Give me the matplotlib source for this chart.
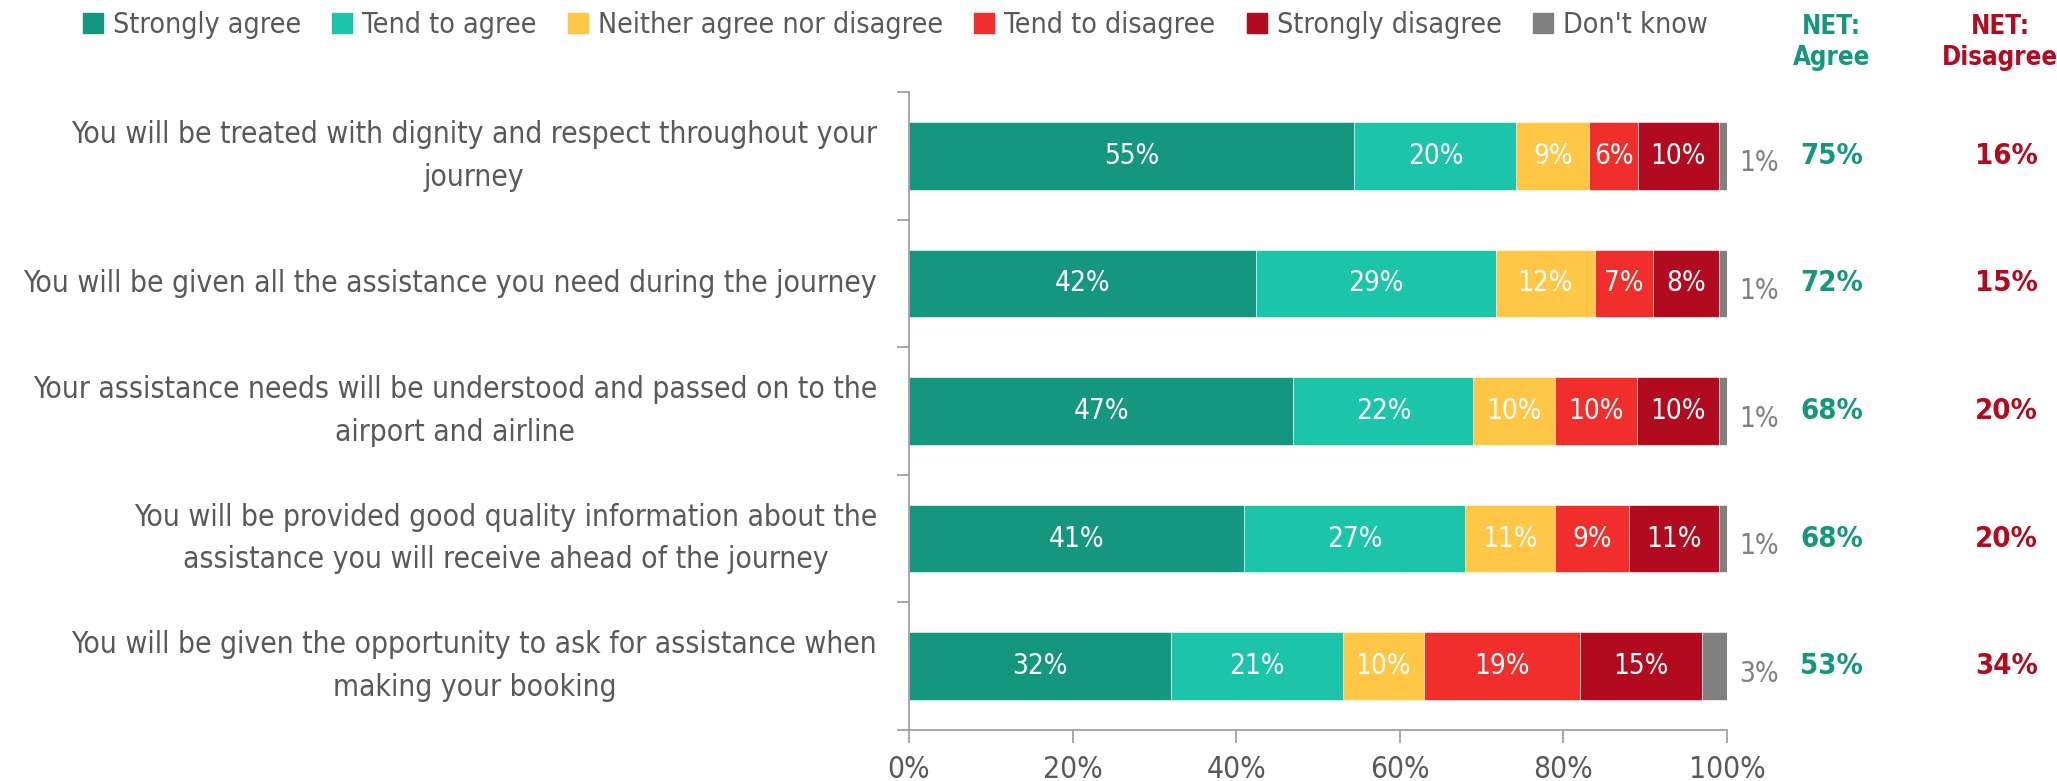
import numpy as np
import matplotlib
matplotlib.use("Agg")
import matplotlib.pyplot as plt
from matplotlib.lines import Line2D

plt.rcParams['font.family'] = ['DejaVu Sans']
plt.rcParams['font.stretch'] = 'condensed'

# data
statements = [
    "You will be treated with dignity and respect throughout your\njourney",
    "You will be given all the assistance you need during the journey",
    "Your assistance needs will be understood and passed on to the\nairport and airline",
    "You will be provided good quality information about the\nassistance you will receive ahead of the journey",
    "You will be given the opportunity to ask for assistance when\nmaking your booking",
]
answers = ["Strongly agree", "Tend to agree", "Neither agree nor disagree",
           "Tend to disagree", "Strongly disagree", "Don't know"]
strongly_agree = [55, 42, 47, 41, 32]
tend_agree = [20, 29, 22, 27, 21]
neither = [9, 12, 10, 11, 10]
tend_disagree = [6, 7, 10, 9, 19]
strongly_disagree = [10, 8, 10, 11, 15]
dont_know = [1, 1, 1, 1, 3]
net_agree = [75, 72, 68, 68, 53]
net_disagree = [16, 15, 20, 20, 34]

colors = ["#14967f", "#1cc5a9", "#ffc745", "#f02e2c", "#b20a1e", "#808080"]
txt_gray = "#58595b"
green = "#14967f"
red = "#b20a1e"

vals = np.array([strongly_agree, tend_agree, neither, tend_disagree,
                 strongly_disagree, dont_know], dtype=float)
shares = vals / vals.sum(axis=0) * 100.   # bars fill to 100%

W, H = 2057, 781
fig = plt.figure(figsize=(W / 100., H / 100.), dpi=100)
ax = fig.add_axes([909. / W, 1 - 730. / H, (1727. - 909.) / W, (730. - 92.) / H])

y = np.arange(len(statements))
left = np.zeros(len(statements))
for k in range(len(answers)):
    ax.barh(y, shares[k], left=left, height=0.53, color=colors[k],
            edgecolor="white", linewidth=0.4)
    for i in range(len(statements)):
        if k < 5:
            ax.text(left[i] + shares[k, i] / 2., y[i], "%d%%" % vals[k, i],
                    ha="center", va="center", color="white", fontsize=20)
        else:
            ax.text(103.9, y[i] + 0.06, "%d%%" % vals[k, i],
                    ha="center", va="center", color="#808080", fontsize=20)
    left += shares[k]

for i in range(len(statements)):
    ax.text(112.8, y[i], "%d%%" % net_agree[i], ha="center", va="center",
            color=green, fontsize=21, fontweight="bold")
    ax.text(134.2, y[i], "%d%%" % net_disagree[i], ha="center", va="center",
            color=red, fontsize=21, fontweight="bold")

ax.text(112.8, 1.033, "NET:\nAgree", transform=ax.get_xaxis_transform(),
        ha="center", va="bottom", color=green, fontsize=18.5,
        fontweight="bold", linespacing=1.25)
ax.text(133.4, 1.033, "NET:\nDisagree", transform=ax.get_xaxis_transform(),
        ha="center", va="bottom", color=red, fontsize=18.5,
        fontweight="bold", linespacing=1.25)

ax.set_xlim(0, 100)
ax.set_ylim(len(statements) - 0.5, -0.5)
ax.set_xticks(np.arange(0, 101, 20))
ax.set_xticklabels(["%d%%" % v for v in range(0, 101, 20)])
ax.set_yticks(np.arange(-0.5, len(statements), 1.0))
ax.set_yticklabels([])
ax.tick_params(axis="x", colors="#999999", labelcolor=txt_gray,
               labelsize=21.5, length=9, width=1.2, pad=9)
ax.tick_params(axis="y", colors="#999999", length=9, width=1.2)

for i, s in enumerate(statements):
    ax.text(-3.9, y[i], s, ha="right", va="center", color=txt_gray,
            fontsize=21.5, multialignment="center", linespacing=1.6)

for side in ["top", "right"]:
    ax.spines[side].set_visible(False)
for side in ["left", "bottom"]:
    ax.spines[side].set_color("#999999")
    ax.spines[side].set_linewidth(1.2)

handles = [Line2D([], [], marker="s", linestyle="none", markersize=14,
                  markerfacecolor=c, markeredgecolor=c) for c in colors]
fig.legend(handles, answers, loc="center left", ncol=6,
           bbox_to_anchor=(70. / W, 1 - 25. / H), frameon=False,
           fontsize=20.5, labelcolor=txt_gray, handlelength=0.8,
           handletextpad=0.3, columnspacing=1.05, borderaxespad=0)

fig.savefig("out.png", dpi=100)
